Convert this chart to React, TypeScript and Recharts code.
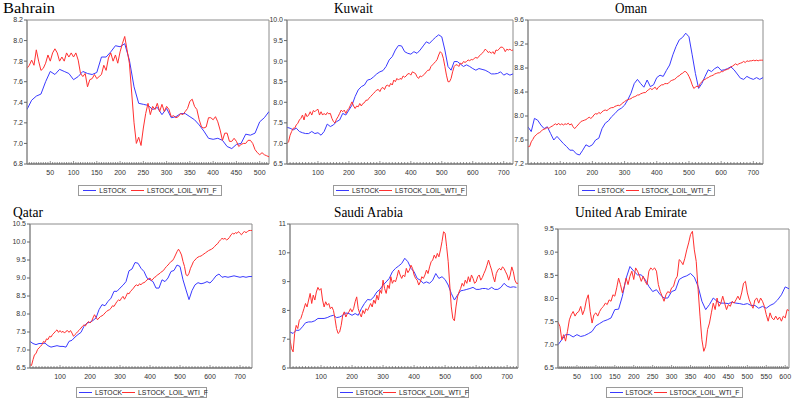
import React from "react";
import { LineChart, Line, XAxis, YAxis, Legend, ReferenceArea } from "recharts";

const STOCK = "LSTOCK";
const OIL = "LSTOCK_LOIL_WTI_F";
const BLUE = "#3a3aff";
const RED = "#ff3030";
const SANS = "'Liberation Sans', Arial, sans-serif";
const SERIF = "'Liberation Serif', 'Times New Roman', serif";
const SERIES_COLORS: Record<string, string> = { [STOCK]: BLUE, [OIL]: RED };

// LSTOCK sampled every 10 observations, LSTOCK_LOIL_WTI_F every 5
const bahrainStock = [
  7.33, 7.42, 7.46, 7.48, 7.60, 7.70, 7.67, 7.72, 7.70, 7.68,
  7.62, 7.65, 7.70, 7.68, 7.67, 7.69, 7.84, 7.84, 7.89, 7.95,
  7.94, 7.97, 7.81, 7.55, 7.39, 7.38, 7.37, 7.33, 7.35, 7.28,
  7.34, 7.25, 7.26, 7.29, 7.29, 7.26, 7.23, 7.18, 7.12, 7.05,
  7.04, 7.05, 7.03, 6.97, 6.95, 6.99, 7.00, 7.09, 7.08, 7.10,
  7.21, 7.25, 7.31,
];
const bahrainOil = [
  7.73, 7.76, 7.81, 7.76, 7.91, 7.80, 7.71, 7.73, 7.78, 7.86,
  7.80, 7.88, 7.92, 7.88, 7.80, 7.84, 7.80, 7.88, 7.84, 7.88,
  7.84, 7.88, 7.81, 7.68, 7.65, 7.68, 7.55, 7.62, 7.63, 7.67,
  7.63, 7.65, 7.67, 7.76, 7.71, 7.83, 7.88, 7.80, 7.86, 7.78,
  7.89, 7.97, 8.04, 7.91, 7.78, 7.49, 7.20, 7.00, 7.06, 6.98,
  7.15, 7.29, 7.39, 7.28, 7.36, 7.33, 7.39, 7.31, 7.38, 7.31,
  7.36, 7.33, 7.26, 7.27, 7.25, 7.26, 7.29, 7.28, 7.31, 7.34,
  7.41, 7.43, 7.36, 7.33, 7.23, 7.16, 7.15, 7.16, 7.25, 7.25,
  7.23, 7.26, 7.21, 7.13, 7.03, 7.10, 7.10, 7.02, 7.02, 7.05,
  7.02, 6.97, 6.99, 7.00, 7.00, 7.03, 7.03, 7.00, 6.94, 6.91,
  6.89, 6.91, 6.89, 6.88, 6.87,
];

const kuwaitStock = [
  7.39, 7.37, 7.33, 7.37, 7.29, 7.26, 7.24, 7.24, 7.29, 7.24,
  7.26, 7.20, 7.29, 7.47, 7.41, 7.45, 7.53, 7.57, 7.73, 7.69,
  7.81, 7.93, 8.14, 8.30, 8.38, 8.42, 8.54, 8.56, 8.62, 8.69,
  8.74, 8.77, 8.87, 9.03, 9.11, 9.27, 9.38, 9.37, 9.23, 9.19,
  9.17, 9.23, 9.19, 9.27, 9.37, 9.47, 9.43, 9.51, 9.58, 9.64,
  9.59, 9.27, 8.87, 8.78, 8.99, 8.99, 8.93, 8.87, 8.91, 8.87,
  8.82, 8.78, 8.82, 8.80, 8.78, 8.74, 8.69, 8.69, 8.70, 8.74,
  8.66, 8.70, 8.66, 8.69,
];
const kuwaitOil = [
  7.00, 7.04, 7.20, 7.29, 7.37, 7.37, 7.45, 7.49, 7.57, 7.61,
  7.69, 7.57, 7.73, 7.65, 7.69, 7.77, 7.69, 7.80, 7.77, 7.81,
  7.83, 7.69, 7.77, 7.69, 7.73, 7.69, 7.75, 7.72, 7.73, 7.61,
  7.53, 7.50, 7.59, 7.65, 7.73, 7.81, 7.77, 7.81, 7.73, 7.81,
  7.85, 7.93, 8.01, 7.91, 7.85, 7.91, 7.89, 7.97, 7.91, 7.97,
  7.99, 8.05, 8.05, 8.10, 8.14, 8.18, 8.22, 8.26, 8.30, 8.31,
  8.26, 8.34, 8.36, 8.31, 8.40, 8.42, 8.38, 8.46, 8.42, 8.54,
  8.50, 8.58, 8.54, 8.58, 8.56, 8.64, 8.61, 8.64, 8.69, 8.70,
  8.66, 8.74, 8.72, 8.70, 8.62, 8.58, 8.64, 8.62, 8.66, 8.69,
  8.74, 8.78, 8.78, 8.87, 8.91, 8.95, 8.99, 9.04, 9.15, 9.23,
  9.19, 9.07, 8.87, 8.66, 8.50, 8.50, 8.58, 8.74, 8.87, 8.91,
  8.91, 8.87, 8.95, 8.93, 8.99, 8.97, 8.99, 9.03, 9.01, 9.04,
  9.03, 9.07, 9.09, 9.07, 9.12, 9.15, 9.19, 9.23, 9.29, 9.26,
  9.21, 9.23, 9.19, 9.23, 9.17, 9.27, 9.26, 9.29, 9.34, 9.34,
  9.31, 9.23, 9.29, 9.27, 9.29, 9.26, 9.27,
];

const omanStock = [
  7.82, 7.74, 7.96, 7.93, 7.85, 7.79, 7.82, 7.71, 7.60, 7.66,
  7.60, 7.54, 7.49, 7.43, 7.43, 7.37, 7.35, 7.43, 7.52, 7.49,
  7.52, 7.60, 7.63, 7.79, 7.88, 7.92, 7.99, 8.04, 8.10, 8.13,
  8.18, 8.27, 8.38, 8.54, 8.61, 8.54, 8.48, 8.60, 8.49, 8.52,
  8.64, 8.68, 8.66, 8.76, 8.85, 9.02, 9.16, 9.27, 9.31, 9.38,
  9.32, 9.02, 8.71, 8.46, 8.54, 8.66, 8.77, 8.74, 8.79, 8.82,
  8.76, 8.77, 8.79, 8.82, 8.77, 8.70, 8.63, 8.61, 8.66, 8.63,
  8.61, 8.64, 8.61, 8.64,
];
const omanOil = [
  7.49, 7.49, 7.57, 7.61, 7.66, 7.68, 7.71, 7.72, 7.74, 7.77,
  7.78, 7.79, 7.81, 7.79, 7.82, 7.83, 7.85, 7.87, 7.85, 7.88,
  7.85, 7.87, 7.85, 7.87, 7.86, 7.88, 7.85, 7.87, 7.82, 7.79,
  7.82, 7.85, 7.88, 7.91, 7.92, 7.93, 7.94, 7.96, 7.98, 7.96,
  7.98, 8.02, 8.04, 8.03, 8.06, 8.04, 8.07, 8.09, 8.10, 8.09,
  8.11, 8.13, 8.14, 8.14, 8.16, 8.17, 8.18, 8.17, 8.20, 8.22,
  8.24, 8.26, 8.27, 8.28, 8.29, 8.31, 8.32, 8.33, 8.35, 8.35,
  8.37, 8.38, 8.39, 8.39, 8.42, 8.44, 8.46, 8.44, 8.46, 8.48,
  8.44, 8.48, 8.50, 8.52, 8.52, 8.54, 8.54, 8.54, 8.57, 8.59,
  8.60, 8.61, 8.63, 8.66, 8.67, 8.70, 8.71, 8.74, 8.74, 8.71,
  8.66, 8.60, 8.52, 8.46, 8.48, 8.50, 8.48, 8.54, 8.57, 8.60,
  8.61, 8.63, 8.64, 8.66, 8.67, 8.68, 8.70, 8.71, 8.72, 8.72,
  8.74, 8.74, 8.76, 8.77, 8.78, 8.79, 8.82, 8.83, 8.85, 8.87,
  8.85, 8.87, 8.88, 8.89, 8.91, 8.89, 8.92, 8.91, 8.92, 8.92,
  8.93, 8.92, 8.93, 8.92, 8.93, 8.93, 8.93,
];

const qatarStock = [
  7.24, 7.18, 7.15, 7.18, 7.18, 7.19, 7.12, 7.08, 7.10, 7.12,
  7.10, 7.10, 7.08, 7.24, 7.27, 7.36, 7.43, 7.49, 7.66, 7.75,
  7.77, 7.82, 7.89, 8.12, 8.26, 8.23, 8.35, 8.44, 8.63, 8.63,
  8.72, 8.80, 8.90, 9.20, 9.25, 9.43, 9.41, 9.27, 9.18, 9.00,
  8.95, 8.90, 8.72, 8.72, 8.95, 8.90, 9.00, 9.18, 9.21, 9.36,
  9.32, 8.95, 8.67, 8.40, 8.65, 8.81, 8.87, 8.84, 8.86, 8.90,
  8.86, 8.95, 9.06, 9.11, 9.02, 9.04, 9.02, 9.04, 9.06, 9.04,
  9.02, 9.04, 9.02, 9.04, 9.04,
];
const qatarOil = [
  6.59, 6.57, 6.73, 6.87, 6.90, 7.01, 7.06, 7.10, 7.15, 7.24,
  7.21, 7.31, 7.29, 7.38, 7.36, 7.43, 7.47, 7.52, 7.56, 7.49,
  7.54, 7.49, 7.52, 7.47, 7.52, 7.54, 7.49, 7.54, 7.47, 7.38,
  7.43, 7.47, 7.52, 7.56, 7.61, 7.66, 7.70, 7.67, 7.75, 7.79,
  7.75, 7.79, 7.89, 7.98, 7.91, 7.84, 7.89, 7.93, 7.95, 7.98,
  8.03, 8.07, 8.10, 8.12, 8.16, 8.23, 8.21, 8.28, 8.35, 8.39,
  8.37, 8.44, 8.49, 8.41, 8.49, 8.58, 8.56, 8.63, 8.67, 8.72,
  8.78, 8.81, 8.78, 8.84, 8.81, 8.86, 8.87, 8.90, 8.95, 8.97,
  9.00, 8.93, 8.97, 9.02, 9.04, 9.09, 9.11, 9.15, 9.18, 9.21,
  9.27, 9.32, 9.36, 9.41, 9.46, 9.48, 9.55, 9.64, 9.73, 9.80,
  9.73, 9.64, 9.46, 9.32, 9.09, 9.06, 9.13, 9.27, 9.36, 9.46,
  9.50, 9.55, 9.58, 9.60, 9.61, 9.64, 9.67, 9.70, 9.73, 9.76,
  9.78, 9.80, 9.83, 9.87, 9.92, 9.95, 10.01, 10.06, 10.10, 10.08,
  10.10, 10.06, 10.08, 10.13, 10.20, 10.24, 10.22, 10.26, 10.24, 10.29,
  10.24, 10.20, 10.26, 10.29, 10.26, 10.29, 10.32, 10.32, 10.32,
];

const saudiStock = [
  7.25, 7.20, 7.31, 7.31, 7.43, 7.57, 7.60, 7.60, 7.64, 7.72,
  7.72, 7.72, 7.75, 7.80, 7.83, 7.75, 7.77, 7.83, 7.91, 7.89,
  7.83, 7.89, 7.83, 8.06, 8.24, 8.38, 8.36, 8.47, 8.64, 8.73,
  8.88, 8.99, 9.11, 9.34, 9.46, 9.54, 9.63, 9.81, 9.69, 9.46,
  9.34, 9.11, 9.05, 8.94, 8.99, 8.94, 9.05, 9.28, 9.11, 9.17,
  9.07, 8.88, 8.59, 8.36, 8.53, 8.68, 8.70, 8.73, 8.76, 8.80,
  8.73, 8.73, 8.76, 8.76, 8.73, 8.80, 8.73, 8.73, 8.80, 8.94,
  8.84, 8.80, 8.82, 8.80,
];
const saudiOil = [
  6.99, 6.67, 6.56, 7.20, 7.48, 7.37, 7.66, 7.72, 7.89, 8.06,
  8.24, 8.12, 8.36, 8.59, 8.24, 8.53, 8.36, 8.64, 8.80, 8.70,
  8.76, 8.36, 8.12, 8.30, 8.18, 8.24, 8.06, 8.12, 8.00, 7.72,
  7.37, 7.20, 7.25, 7.48, 7.83, 7.95, 7.77, 7.89, 7.95, 8.06,
  7.95, 8.06, 8.30, 8.47, 8.06, 7.89, 7.77, 8.00, 7.89, 8.06,
  8.00, 8.12, 8.24, 8.12, 8.36, 8.24, 8.53, 8.36, 8.70, 8.59,
  9.05, 8.76, 8.59, 8.88, 8.76, 9.17, 8.94, 9.05, 8.99, 9.17,
  9.40, 9.23, 9.11, 9.23, 9.17, 9.46, 9.31, 9.40, 9.57, 9.46,
  9.23, 9.11, 9.05, 8.88, 8.99, 9.17, 9.11, 9.23, 9.40, 9.28,
  9.51, 9.69, 9.75, 9.92, 9.81, 9.98, 9.86, 10.10, 10.39, 10.73,
  10.68, 10.21, 9.69, 8.88, 8.12, 7.72, 7.64, 8.12, 8.47, 8.64,
  8.76, 8.94, 8.84, 9.05, 8.94, 9.17, 8.99, 9.23, 9.11, 8.94,
  8.99, 9.17, 9.23, 9.05, 9.14, 9.28, 9.40, 9.57, 9.75, 9.57,
  9.40, 9.17, 8.99, 9.28, 9.40, 9.46, 9.40, 9.51, 9.46, 9.34,
  9.23, 9.05, 9.23, 9.51, 9.34, 9.05, 8.94, 8.94,
];

const uaeStock = [
  7.00, 7.11, 7.22, 7.22, 7.17, 7.22, 7.18, 7.20, 7.24, 7.29,
  7.41, 7.46, 7.51, 7.54, 7.58, 7.76, 7.77, 8.05, 8.44, 8.69,
  8.59, 8.51, 8.51, 8.41, 8.26, 8.15, 8.19, 8.08, 8.01, 8.01,
  8.15, 8.18, 8.41, 8.46, 8.49, 8.54, 8.46, 8.26, 7.94, 7.76,
  7.87, 8.01, 7.94, 7.90, 7.90, 7.89, 7.92, 7.90, 7.89, 7.87,
  7.89, 7.85, 7.85, 7.79, 7.83, 7.79, 7.85, 7.89, 7.97, 8.08,
  8.25, 8.21,
];
const uaeOil = [
  7.49, 7.40, 7.11, 7.22, 7.08, 7.29, 7.54, 7.65, 7.72, 7.62,
  7.69, 7.72, 7.83, 7.65, 7.76, 7.97, 8.08, 7.72, 7.47, 7.65,
  7.69, 7.62, 7.72, 7.79, 7.83, 7.90, 7.87, 7.97, 7.94, 8.08,
  8.05, 8.23, 8.44, 8.30, 8.12, 8.26, 8.44, 8.30, 8.48, 8.59,
  8.41, 8.66, 8.59, 8.49, 8.37, 8.48, 8.37, 8.30, 8.59, 8.66,
  8.62, 8.66, 8.59, 8.30, 8.15, 8.05, 7.94, 8.08, 8.15, 8.12,
  8.23, 8.26, 8.41, 8.48, 8.84, 8.80, 8.73, 8.87, 9.05, 9.20,
  9.38, 9.45, 9.05, 8.80, 8.19, 7.62, 7.11, 6.86, 6.97, 7.33,
  7.47, 7.69, 7.90, 7.76, 8.01, 7.83, 7.90, 8.05, 7.90, 7.76,
  7.87, 7.83, 7.94, 7.90, 7.97, 8.05, 7.97, 8.12, 8.33, 8.37,
  8.12, 7.97, 7.87, 7.79, 7.97, 8.01, 7.90, 8.01, 7.94, 7.83,
  7.65, 7.51, 7.69, 7.58, 7.54, 7.62, 7.54, 7.60, 7.51, 7.62,
  7.58, 7.76, 7.74,
];

// tick labels
const bahrainXTicks = [50, 100, 150, 200, 250, 300, 350, 400, 450, 500];
const hundredXTicks = [100, 200, 300, 400, 500, 600, 700];
const uaeXTicks = [50, 100, 150, 200, 250, 300, 350, 400, 450, 500, 550, 600];
const bahrainYTicks = [6.8, 7.0, 7.2, 7.4, 7.6, 7.8, 8.0, 8.2];
const kuwaitYTicks = [6.5, 7.0, 7.5, 8.0, 8.5, 9.0, 9.5, 10.0];
const omanYTicks = [7.2, 7.6, 8.0, 8.4, 8.8, 9.2, 9.6];
const qatarYTicks = [6.5, 7.0, 7.5, 8.0, 8.5, 9.0, 9.5, 10.0, 10.5];
const saudiYTicks = [6, 7, 8, 9, 10, 11];
const uaeYTicks = [6.5, 7.0, 7.5, 8.0, 8.5, 9.0, 9.5];

const toPoints = (vals: number[], step: number) => vals.map((v, i) => ({ x: i * step, v }));

type PanelProps = {
  title: string;
  titlePos: { x: number; y: number; w: number };
  plot: { l: number; t: number; r: number; b: number };
  legend: { x: number; y: number; w: number };
  stock: number[];
  oil: number[];
  xMax: number;
  xTicks: number[];
  minorStep: number;
  yTicks: number[];
  decimals: number;
};

const panels: PanelProps[] = [
  {
    title: "Bahrain", titlePos: { x: 3, y: 13, w: 52 },
    plot: { l: 27, t: 20, r: 269, b: 164 }, legend: { x: 78, y: 185, w: 144 },
    stock: bahrainStock, oil: bahrainOil, xMax: 520, xTicks: bahrainXTicks, minorStep: 5,
    yTicks: bahrainYTicks, decimals: 1,
  },
  {
    title: "Kuwait", titlePos: { x: 334, y: 13, w: 39 },
    plot: { l: 287, t: 20, r: 513, b: 164 }, legend: { x: 333, y: 185, w: 134 },
    stock: kuwaitStock, oil: kuwaitOil, xMax: 730, xTicks: hundredXTicks, minorStep: 10,
    yTicks: kuwaitYTicks, decimals: 1,
  },
  {
    title: "Oman", titlePos: { x: 615, y: 13, w: 32 },
    plot: { l: 528, t: 20, r: 763, b: 164 }, legend: { x: 578, y: 185, w: 137 },
    stock: omanStock, oil: omanOil, xMax: 730, xTicks: hundredXTicks, minorStep: 10,
    yTicks: omanYTicks, decimals: 1,
  },
  {
    title: "Qatar", titlePos: { x: 13, y: 216.5, w: 30 },
    plot: { l: 30, t: 224, r: 252, b: 368 }, legend: { x: 76, y: 387, w: 131 },
    stock: qatarStock, oil: qatarOil, xMax: 740, xTicks: hundredXTicks, minorStep: 10,
    yTicks: qatarYTicks, decimals: 1,
  },
  {
    title: "Saudi Arabia", titlePos: { x: 334, y: 216.5, w: 69 },
    plot: { l: 290, t: 224, r: 518, b: 368 }, legend: { x: 337, y: 387, w: 132 },
    stock: saudiStock, oil: saudiOil, xMax: 735, xTicks: hundredXTicks, minorStep: 10,
    yTicks: saudiYTicks, decimals: 0,
  },
  {
    title: "United Arab Emirate", titlePos: { x: 575, y: 216.5, w: 112 },
    plot: { l: 558, t: 229, r: 789, b: 368 }, legend: { x: 606, y: 387, w: 137 },
    stock: uaeStock, oil: uaeOil, xMax: 610, xTicks: uaeXTicks, minorStep: 5,
    yTicks: uaeYTicks, decimals: 1,
  },
];

const Y_AXIS_W = 26;
const X_AXIS_H = 14;
const TOP_PAD = 6;

function makeXTick(major: number[]) {
  return (props: any) => {
    const { x, y, payload } = props;
    const isMajor = major.includes(payload.value);
    return (
      <g>
        <line x1={x} x2={x} y1={y} y2={y - (isMajor ? 3 : 2)} stroke="#666" strokeWidth={0.7} />
        {isMajor && (
          <text x={x} y={y + 11} textAnchor="middle" fontSize={7} fill="#333" fontFamily={SANS}>
            {payload.value}
          </text>
        )}
      </g>
    );
  };
}

function makeLegend(width: number) {
  return (props: any) => (
    <div
      style={{
        width,
        height: 11,
        boxSizing: "border-box",
        border: "1px solid #9a9a9a",
        background: "#fff",
        display: "flex",
        alignItems: "center",
        justifyContent: "space-around",
        padding: "0 2px",
        fontSize: 6.8,
        fontFamily: SANS,
        color: "#222",
        lineHeight: "9px",
        whiteSpace: "nowrap",
      }}
    >
      {(props.payload || []).map((p: any) => (
        <span key={p.value} style={{ display: "flex", alignItems: "center", gap: 3 }}>
          <svg width={13} height={9} style={{ display: "block" }}>
            <rect x={0} y={4} width={13} height={1.2} fill={SERIES_COLORS[p.value] || p.color} shapeRendering="crispEdges" />
          </svg>
          {p.value}
        </span>
      ))}
    </div>
  );
}

function Panel(p: PanelProps) {
  const { plot, legend } = p;
  const chartLeft = plot.l - Y_AXIS_W;
  const chartTop = plot.t - TOP_PAD;
  const width = plot.r - plot.l + Y_AXIS_W + 3;
  const height = TOP_PAD + (plot.b - plot.t) + X_AXIS_H + 22;
  const yMin = p.yTicks[0];
  const yMax = p.yTicks[p.yTicks.length - 1];
  const allTicks: number[] = [];
  for (let t = p.minorStep; t < p.xMax; t += p.minorStep) allTicks.push(t);

  return (
    <div style={{ position: "absolute", left: chartLeft, top: chartTop }}>
      <LineChart width={width} height={height} margin={{ top: TOP_PAD, right: 3, bottom: 22, left: 0 }}>
        <XAxis
          type="number"
          dataKey="x"
          domain={[0, p.xMax]}
          allowDataOverflow
          ticks={allTicks}
          interval={0}
          tickSize={0}
          tickMargin={0}
          tickLine={false}
          height={X_AXIS_H}
          axisLine={{ stroke: "#666" }}
          tick={makeXTick(p.xTicks)}
        />
        <YAxis
          type="number"
          domain={[yMin, yMax]}
          allowDataOverflow
          ticks={p.yTicks}
          interval={0}
          width={Y_AXIS_W}
          tickSize={3}
          tickMargin={1}
          tickFormatter={(v: number) => v.toFixed(p.decimals)}
          tick={{ fontSize: 7, fill: "#333", fontFamily: SANS }}
          tickLine={{ stroke: "#666" }}
          axisLine={{ stroke: "#888" }}
        />
        <ReferenceArea x1={0} x2={p.xMax} y1={yMin} y2={yMax} fill="none" stroke="#8c8c8c" strokeWidth={1} />
        <Line
          data={toPoints(p.stock, 10)}
          dataKey="v"
          name={STOCK}
          type="linear"
          stroke={BLUE}
          strokeWidth={1}
          dot={false}
          activeDot={false}
          isAnimationActive={false}
        />
        <Line
          data={toPoints(p.oil, 5)}
          dataKey="v"
          name={OIL}
          type="linear"
          stroke={RED}
          strokeWidth={1}
          dot={false}
          activeDot={false}
          isAnimationActive={false}
        />
        <Legend
          layout="horizontal"
          verticalAlign="middle"
          align="center"
          content={makeLegend(legend.w)}
          wrapperStyle={{ left: legend.x - chartLeft, top: legend.y - chartTop, width: legend.w }}
        />
      </LineChart>
    </div>
  );
}

export default function App() {
  return (
    <div style={{ position: "absolute", left: 0, top: 0, width: 798, height: 404, background: "#fff", overflow: "hidden" }}>
      {panels.map((p) => (
        <Panel key={p.title} {...p} />
      ))}
      <svg width={798} height={404} style={{ position: "absolute", left: 0, top: 0, pointerEvents: "none" }}>
        {panels.map((p) => (
          <text
            key={p.title}
            x={p.titlePos.x}
            y={p.titlePos.y}
            fontSize={14}
            fontFamily={SERIF}
            fill="#000"
            textLength={p.titlePos.w}
            lengthAdjust="spacingAndGlyphs"
          >
            {p.title}
          </text>
        ))}
      </svg>
    </div>
  );
}
